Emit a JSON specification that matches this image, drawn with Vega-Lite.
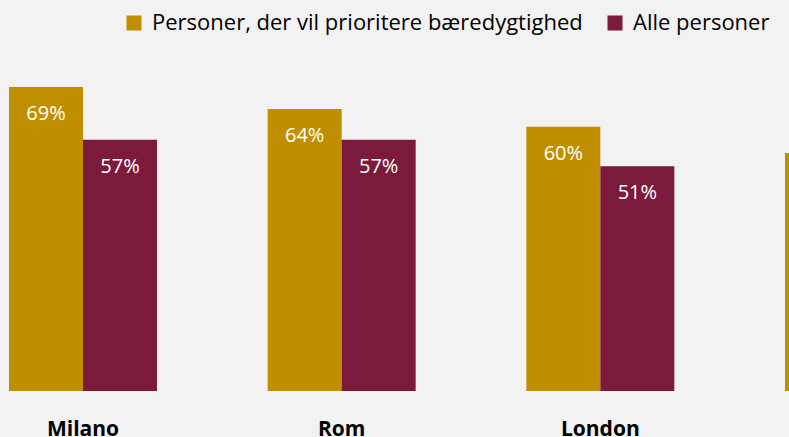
{
  "$schema": "https://vega.github.io/schema/vega-lite/v6.json",
  "autosize": {"type": "none"},
  "padding": {"left": 0, "top": 0, "right": 0, "bottom": 46},
  "width": 789,
  "height": 391,
  "background": "#f2f2f2",
  "config": {"view": {"stroke": null}, "font": "Open Sans"},
  "data": {
    "values": [
      {"city": "Milano", "group": "Personer, der vil prioritere bæredygtighed", "value": 0.69},
      {"city": "Milano", "group": "Alle personer", "value": 0.57},
      {"city": "Rom", "group": "Personer, der vil prioritere bæredygtighed", "value": 0.64},
      {"city": "Rom", "group": "Alle personer", "value": 0.57},
      {"city": "London", "group": "Personer, der vil prioritere bæredygtighed", "value": 0.60},
      {"city": "London", "group": "Alle personer", "value": 0.51},
      {"city": "Paris", "group": "Personer, der vil prioritere bæredygtighed", "value": 0.54},
      {"city": "Paris", "group": "Alle personer", "value": 0.47}
    ]
  },
  "encoding": {
    "x": {
      "field": "city", "type": "nominal", "sort": null,
      "scale": {"domain": ["Milano", "Rom", "London", "Paris"], "range": [9, 933], "paddingInner": 0.4278, "paddingOuter": 0},
      "axis": {"title": null, "domain": false, "ticks": false, "labelAngle": 0, "labelFont": "Open Sans", "labelFontWeight": "bold", "labelFontSize": 21, "labelColor": "#000000", "labelPadding": 27, "labelBaseline": "top"}
    },
    "xOffset": {
      "field": "group", "type": "nominal",
      "scale": {"domain": ["Personer, der vil prioritere bæredygtighed", "Alle personer"], "paddingInner": 0, "paddingOuter": 0}
    },
    "y": {
      "field": "value", "type": "quantitative",
      "scale": {"domain": [0, 0.8874], "nice": false, "zero": true},
      "axis": null
    }
  },
  "layer": [
    {
      "mark": {"type": "bar", "clip": true},
      "encoding": {
        "color": {
          "field": "group", "type": "nominal",
          "scale": {"domain": ["Personer, der vil prioritere bæredygtighed", "Alle personer"], "range": ["#bf8f00", "#7b1a3b"]},
          "legend": {
            "title": null, "orient": "none", "legendX": 123, "legendY": 12, "direction": "horizontal",
            "symbolType": "square", "symbolSize": 225, "symbolStrokeWidth": 0, "symbolOpacity": 1,
            "labelFont": "Open Sans", "labelFontSize": 22, "labelColor": "#000000", "labelOffset": 7, "columnPadding": 21, "labelLimit": 600
          }
        }
      }
    },
    {
      "mark": {"type": "text", "color": "#ffffff", "fontSize": 20, "font": "Open Sans", "dy": 27, "baseline": "middle", "clip": true},
      "encoding": {
        "text": {"field": "value", "type": "quantitative", "format": ".0%"},
        "detail": {"field": "group"}
      }
    }
  ]
}
